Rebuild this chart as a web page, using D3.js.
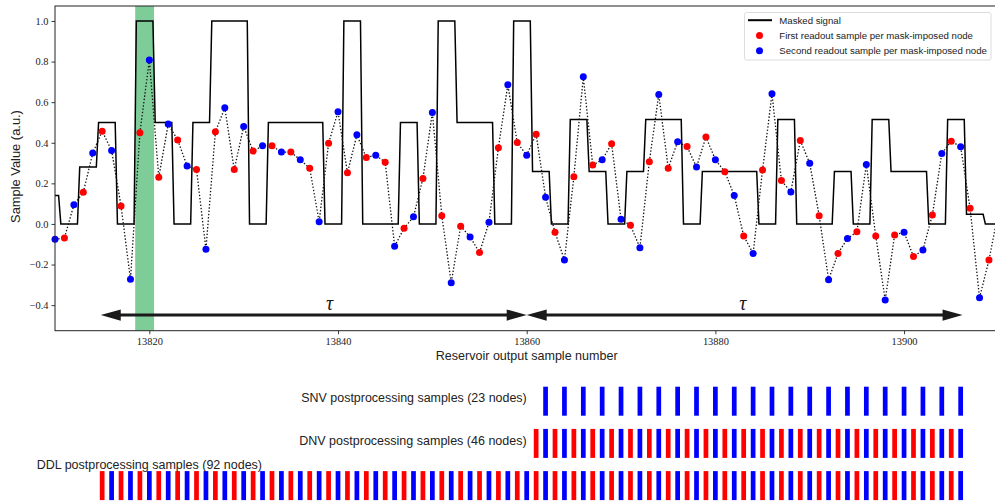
<!DOCTYPE html>
<html><head><meta charset="utf-8">
<script src="https://cdn.jsdelivr.net/npm/d3@7"></script>
<style>body{margin:0;background:#fff}svg{display:block}</style>
</head><body>
<svg id="chart" width="995" height="504"></svg>
<script>
// ---------------- data ----------------
const xDomain = [13810, 13910];
const yDomain = [-0.526, 1.0739];
const xTicks = [13820, 13840, 13860, 13880, 13900];
const yTicks = [-0.4, -0.2, 0.0, 0.2, 0.4, 0.6, 0.8, 1.0];

// second readout sample per node: even samples 13810..13910
const secondStart = 13810;
const secondReadout = [-0.076, 0.094, 0.349, 0.362, -0.273, 0.808, 0.492, 0.286, -0.125, 0.572,
  0.480, 0.385, 0.354, 0.316, 0.011, 0.553, 0.439, 0.339, -0.110, 0.035,
  0.549, -0.290, -0.064, 0.008, 0.686, 0.339, 0.132, -0.178, 0.725, 0.316,
  0.023, -0.117, 0.638, 0.405, 0.280, 0.316, 0.140, -0.145, 0.641, 0.158,
  0.299, -0.275, -0.072, 0.293, -0.375, -0.041, -0.128, 0.347, 0.380, -0.364, 0.06];
// first readout sample per node: odd samples 13811..13909
const firstStart = 13811;
const firstReadout = [-0.069, 0.156, 0.457, 0.089, 0.449, 0.230, 0.414, 0.268, 0.454, 0.268,
  0.359, 0.385, 0.354, 0.275, 0.398, 0.252, 0.327, 0.304, -0.021, 0.224,
  0.041, -0.011, -0.141, 0.375, 0.401, 0.442, -0.041, 0.233, 0.290, 0.395,
  -0.007, 0.307, 0.275, 0.381, 0.429, 0.257, -0.059, 0.266, 0.214, 0.411,
  0.041, -0.145, -0.039, -0.059, -0.054, -0.161, 0.044, 0.408, 0.077, -0.178];

// masked signal: one level per mask-imposed node (2 samples each), first node starts at 13808.5
const nodeStart = 13808.5;
const nodeLength = 2;
const maskedSignal = [0.14, 0, 0.28,
  0.5, 0, 1, 0.5, 0, 0.5, 1, 1, 0, 0.5, 0.5, 0.5, 0, 1, 0, 0, 0.5, 0, 1, 0.5, 0.5, 0, 1,
  0.258, 0, 0.515, 0.258, 0, 0.258, 0.515, 0.515, 0, 0.258, 0.258, 0.258, 0, 0.515, 0, 0, 0.258, 0, 0.515, 0.258, 0.258, 0, 0.515,
  0.048, 0];

const highlightSpan = [13818.5, 13820.5];
const tauArrows = [[13814.85, 13860], [13860, 13906.2]];
const tauArrowY = -0.449;
const tauLabels = [13839.1, 13882.9];
const tauLabelY = -0.41;

const legendItems = ["Masked signal", "First readout sample per mask-imposed node", "Second readout sample per mask-imposed node"];

const postRows = [
  {key: "SNV", label: "SNV postprocessing samples (23 nodes)", from: 13862, to: 13906, step: 2},
  {key: "DNV", label: "DNV postprocessing samples (46 nodes)", from: 13861, to: 13906, step: 1},
  {key: "DDL", label: "DDL postprocessing samples (92 nodes)", from: 13815, to: 13906, step: 1}
];

// ---------------- drawing ----------------
const RED = "#ff0000", BLUE = "#0000ff";
const svg = d3.select("#chart");
const M = {left: 55, right: 998.4, top: 6, bottom: 330.7};
const x = d3.scaleLinear(xDomain, [M.left, M.right]);
const y = d3.scaleLinear(yDomain, [M.bottom, M.top]);
const sans = "'Liberation Sans', Arial, sans-serif";
const serif = "'Liberation Serif', 'Times New Roman', serif";

function fit(sel, w) {
  const len = sel.node().getComputedTextLength();
  const fs = parseFloat(sel.attr("font-size"));
  sel.attr("font-size", (fs * w / len).toFixed(2));
}

svg.append("defs").append("clipPath").attr("id", "clip")
  .append("rect").attr("x", M.left).attr("y", M.top)
  .attr("width", M.right - M.left).attr("height", M.bottom - M.top);

const plot = svg.append("g").attr("clip-path", "url(#clip)");

// highlight band
plot.append("rect")
  .attr("x", x(highlightSpan[0])).attr("width", x(highlightSpan[1]) - x(highlightSpan[0]))
  .attr("y", M.top).attr("height", M.bottom - M.top)
  .attr("fill", "#7ecd99");

// masked signal
const eps = 0.12;
const maskPts = [];
maskedSignal.forEach((v, k) => {
  const s0 = nodeStart + k * nodeLength, s1 = s0 + nodeLength;
  maskPts.push([s0 + eps, v], [s1 - eps, v]);
});
plot.append("path")
  .attr("d", d3.line().x(d => x(d[0])).y(d => y(d[1]))(maskPts))
  .attr("fill", "none").attr("stroke", "#000").attr("stroke-width", 1.5)
  .attr("stroke-linejoin", "miter");

// readout points
const pts = [];
secondReadout.forEach((v, i) => pts.push({s: secondStart + 2 * i, v, c: BLUE}));
firstReadout.forEach((v, i) => pts.push({s: firstStart + 2 * i, v, c: RED}));
pts.sort((a, b) => a.s - b.s);

svg.append("g").selectAll("circle").data(pts.filter(d => d.s <= xDomain[1] - 0.5)).join("circle")
  .attr("cx", d => x(d.s)).attr("cy", d => y(d.v)).attr("r", 3.5).attr("fill", d => d.c);

plot.append("path")
  .attr("d", d3.line().x(d => x(d.s)).y(d => y(d.v))(pts))
  .attr("fill", "none").attr("stroke", "#111").attr("stroke-width", 1.3)
  .attr("stroke-dasharray", "1.4,1.9");

// tau arrows
const ag = svg.append("g");
const headL = 20, headW = 5.6;
tauArrows.forEach(([a, b]) => {
  const xa = x(a), xb = x(b), yy = y(tauArrowY);
  ag.append("line").attr("x1", xa + headL - 2).attr("x2", xb - headL + 2).attr("y1", yy).attr("y2", yy)
    .attr("stroke", "#1a1a1a").attr("stroke-width", 3);
  ag.append("path").attr("d", `M${xa},${yy} L${xa + headL},${yy - headW} L${xa + headL},${yy + headW} Z`).attr("fill", "#1a1a1a");
  ag.append("path").attr("d", `M${xb},${yy} L${xb - headL},${yy - headW} L${xb - headL},${yy + headW} Z`).attr("fill", "#1a1a1a");
});
tauLabels.forEach(s => {
  ag.append("text").attr("x", x(s)).attr("y", y(tauLabelY) + 3).attr("text-anchor", "middle")
    .attr("font-family", serif).attr("font-style", "italic").attr("font-size", 20).attr("fill", "#1a1a1a").text("τ");
});

// frame
svg.append("rect").attr("x", M.left).attr("y", M.top).attr("width", M.right - M.left).attr("height", M.bottom - M.top)
  .attr("fill", "none").attr("stroke", "#222").attr("stroke-width", 1);

// axes
const xAxis = svg.append("g").attr("transform", `translate(0,${M.bottom})`)
  .call(d3.axisBottom(x).tickValues(xTicks).tickFormat(d3.format("d")).tickSize(3.5).tickPadding(3));
const yAxis = svg.append("g").attr("transform", `translate(${M.left},0)`)
  .call(d3.axisLeft(y).tickValues(yTicks).tickFormat(d3.format(".1f")).tickSize(3.5).tickPadding(3));
[xAxis, yAxis].forEach(g => {
  g.select(".domain").remove();
  g.selectAll(".tick line").attr("stroke", "#222").attr("stroke-width", 0.9);
  g.selectAll("text").attr("font-family", serif).attr("font-size", 10.4).attr("fill", "#222");
});

// axis labels
const xl = svg.append("text").attr("x", 526.7).attr("y", 359.5).attr("text-anchor", "middle")
  .attr("font-family", sans).attr("font-size", 12).attr("fill", "#222").text("Reservoir output sample number");
fit(xl, 182);
const yl = svg.append("text").attr("transform", "translate(19.5,166.5) rotate(-90)").attr("text-anchor", "middle")
  .attr("font-family", sans).attr("font-size", 12).attr("fill", "#222").text("Sample Value (a.u.)");
fit(yl, 113);

// legend
const lg = svg.append("g");
lg.append("rect").attr("x", 744.5).attr("y", 12.5).attr("width", 246.5).attr("height", 47.5).attr("rx", 2)
  .attr("fill", "#fff").attr("fill-opacity", 0.8).attr("stroke", "#dcdcdc").attr("stroke-width", 1);
const rowY = [20.2, 35.5, 50.8];
lg.append("line").attr("x1", 748).attr("x2", 772).attr("y1", rowY[0]).attr("y2", rowY[0]).attr("stroke", "#000").attr("stroke-width", 2);
lg.append("circle").attr("cx", 759.5).attr("cy", rowY[1]).attr("r", 3.5).attr("fill", RED);
lg.append("circle").attr("cx", 759.5).attr("cy", rowY[2]).attr("r", 3.5).attr("fill", BLUE);
const lt = lg.selectAll("text.leg").data(legendItems).join("text").attr("class", "leg")
  .attr("x", 779.3).attr("y", (d, i) => rowY[i] + 3.5)
  .attr("font-family", sans).attr("font-size", 9.6).attr("fill", "#222").text(d => d);
fit(lt.filter((d, i) => i === 2), 208);
lt.attr("font-size", lt.filter((d, i) => i === 2).attr("font-size"));

// postprocessing sample rows
const rowScale = d3.scaleBand(postRows.map(r => r.key), [386.7, 500.1]).paddingInner(0.313).paddingOuter(0);
const bw = 0.5;
postRows.forEach(r => {
  const ss = d3.range(r.from, r.to + 0.5, r.step);
  svg.append("g").selectAll("rect").data(ss).join("rect")
    .attr("x", s => x(s - bw / 2)).attr("width", x(bw) - x(0))
    .attr("y", rowScale(r.key)).attr("height", rowScale.bandwidth())
    .attr("fill", s => ((s - firstStart) % 2 === 0) ? RED : BLUE);
  const isDDL = r.key === "DDL";
  const t = svg.append("text")
    .attr("x", isDDL ? x(13820) : x(13860))
    .attr("y", isDDL ? rowScale(r.key) - 1.7 : rowScale(r.key) + rowScale.bandwidth() / 2 + 1.2)
    .attr("text-anchor", isDDL ? "middle" : "end")
    .attr("font-family", sans).attr("font-size", 12.5).attr("fill", "#222").text(r.label);
  fit(t, isDDL ? 225.4 : (r.key === "SNV" ? 225.7 : 227.7));
});
</script>
</body></html>
